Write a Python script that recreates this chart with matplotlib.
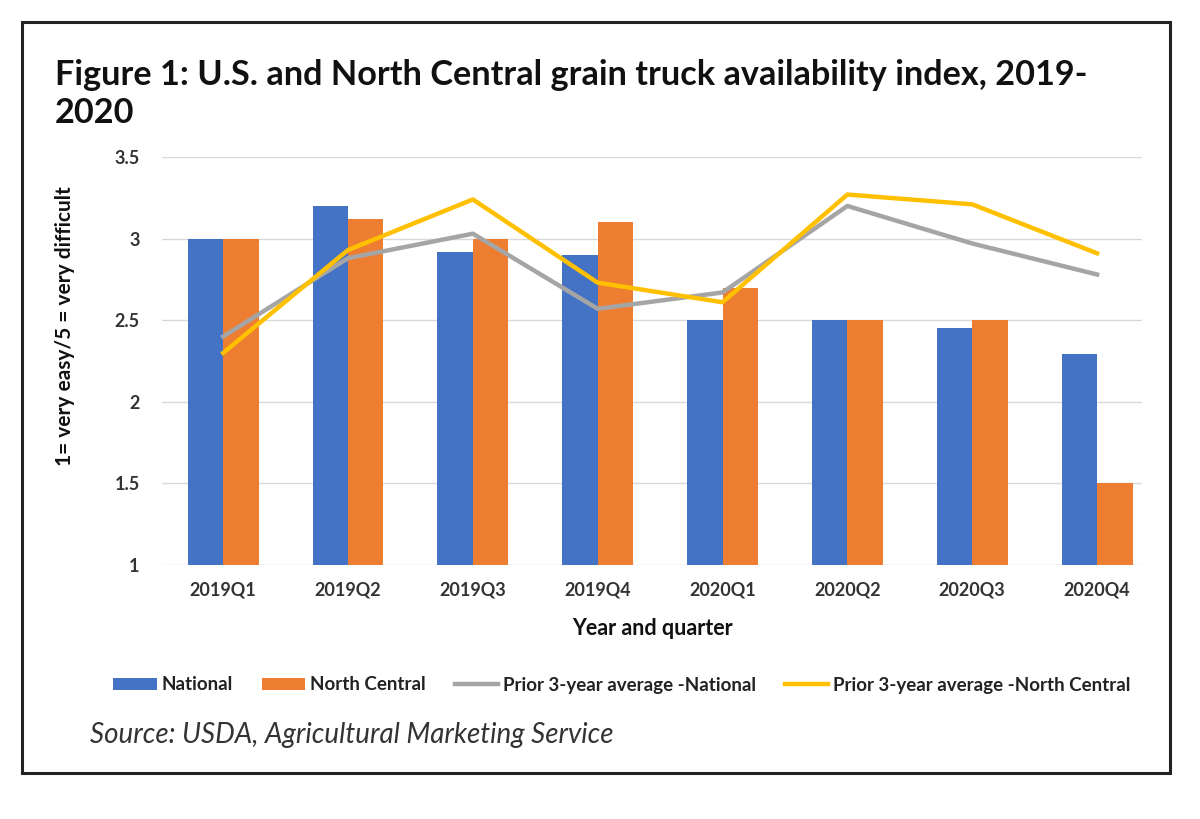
import matplotlib
matplotlib.use("Agg")
import matplotlib.pyplot as plt
import numpy as np
from matplotlib.patches import Rectangle, Patch
from matplotlib.lines import Line2D

plt.rcParams['font.family'] = ['Lato', 'DejaVu Sans']

quarters = ["2019Q1", "2019Q2", "2019Q3", "2019Q4", "2020Q1", "2020Q2", "2020Q3", "2020Q4"]
national = [3.0, 3.2, 2.92, 2.9, 2.5, 2.5, 2.45, 2.29]
north_central = [3.0, 3.12, 3.0, 3.1, 2.7, 2.5, 2.5, 1.5]
avg_national = [2.4, 2.88, 3.03, 2.57, 2.67, 3.2, 2.97, 2.78]
avg_north_central = [2.3, 2.93, 3.24, 2.73, 2.61, 3.27, 3.21, 2.91]
yticks = [1, 1.5, 2, 2.5, 3, 3.5]
ytick_labels = ["1", "1.5", "2", "2.5", "3", "3.5"]

C_BLUE = "#4472C4"
C_ORANGE = "#ED7D31"
C_GRAY = "#A5A5A5"
C_YELLOW = "#FFC000"

fig = plt.figure(figsize=(12, 8.19), dpi=100)
W, H = 1200, 819

def fx(px):
    return px / W

def fy(py):
    return 1 - py / H

# border
fig.patches.append(Rectangle((fx(22), fy(773)), fx(1170) - fx(22), fy(22) - fy(773),
                             transform=fig.transFigure, fill=False, edgecolor="#222222",
                             linewidth=2.2, zorder=0))

ax = fig.add_axes([fx(162), fy(565), fx(1142) - fx(162), fy(157) - fy(565)])
x = np.arange(len(quarters))
bw = 0.284
ax.bar(x - bw / 2, national, width=bw, color=C_BLUE, zorder=2)
ax.bar(x + bw / 2, north_central, width=bw, color=C_ORANGE, zorder=2)
ax.plot(x, avg_national, color=C_GRAY, linewidth=3.2, zorder=3, solid_joinstyle="round")
ax.plot(x, avg_north_central, color=C_YELLOW, linewidth=3.2, zorder=4, solid_joinstyle="round")

ax.set_ylim(1, 3.5)
ax.set_xlim(-0.49, 7.36)
ax.set_yticks(yticks)
ax.set_yticklabels(ytick_labels)
ax.set_xticks(x)
ax.set_xticklabels(quarters)
for lab in ax.get_xticklabels() + ax.get_yticklabels():
    lab.set_fontweight("bold")
    lab.set_fontsize(13)
    lab.set_color("#333333")
ax.tick_params(axis="both", length=0)
ax.tick_params(axis="x", pad=12)
ax.tick_params(axis="y", pad=16)
ax.yaxis.grid(True, color="#D9D9D9", linewidth=1.0, zorder=0)
ax.set_axisbelow(True)
for s in ax.spines.values():
    s.set_visible(False)

ax.set_xlabel("Year and quarter", fontsize=15.5, fontweight="bold", color="#111111", labelpad=14)
fig.text(fx(65), fy(326), "1= very easy/5 = very difficult", fontsize=15, fontweight="bold",
         color="#111111", rotation=90, ha="center", va="center")

fig.text(fx(55), fy(75), "Figure 1: U.S. and North Central grain truck availability index, 2019-",
         fontsize=24.7, fontweight="bold", va="center", ha="left", color="#111111")
fig.text(fx(55), fy(113), "2020", fontsize=24.7, fontweight="bold", va="center", ha="left",
         color="#111111")

handles = [Patch(facecolor=C_BLUE), Patch(facecolor=C_ORANGE),
           Line2D([0], [0], color=C_GRAY, linewidth=3.2),
           Line2D([0], [0], color=C_YELLOW, linewidth=3.2)]
labels = ["National", "North Central", "Prior 3-year average -National",
          "Prior 3-year average -North Central"]
leg = fig.legend(handles, labels, loc="center", bbox_to_anchor=(fx(622), fy(685)), ncol=4,
                 frameon=False, prop={"weight": "bold", "size": 13.5}, handlelength=2.3,
                 handleheight=0.6, columnspacing=1.55, handletextpad=0.27)
for t in leg.get_texts():
    t.set_color("#222222")

fig.text(fx(90), fy(735), "Source: USDA, Agricultural Marketing Service", fontsize=20,
         style="italic", va="center", ha="left", color="#333333")

fig.savefig("out.png", dpi=100, facecolor="white")
